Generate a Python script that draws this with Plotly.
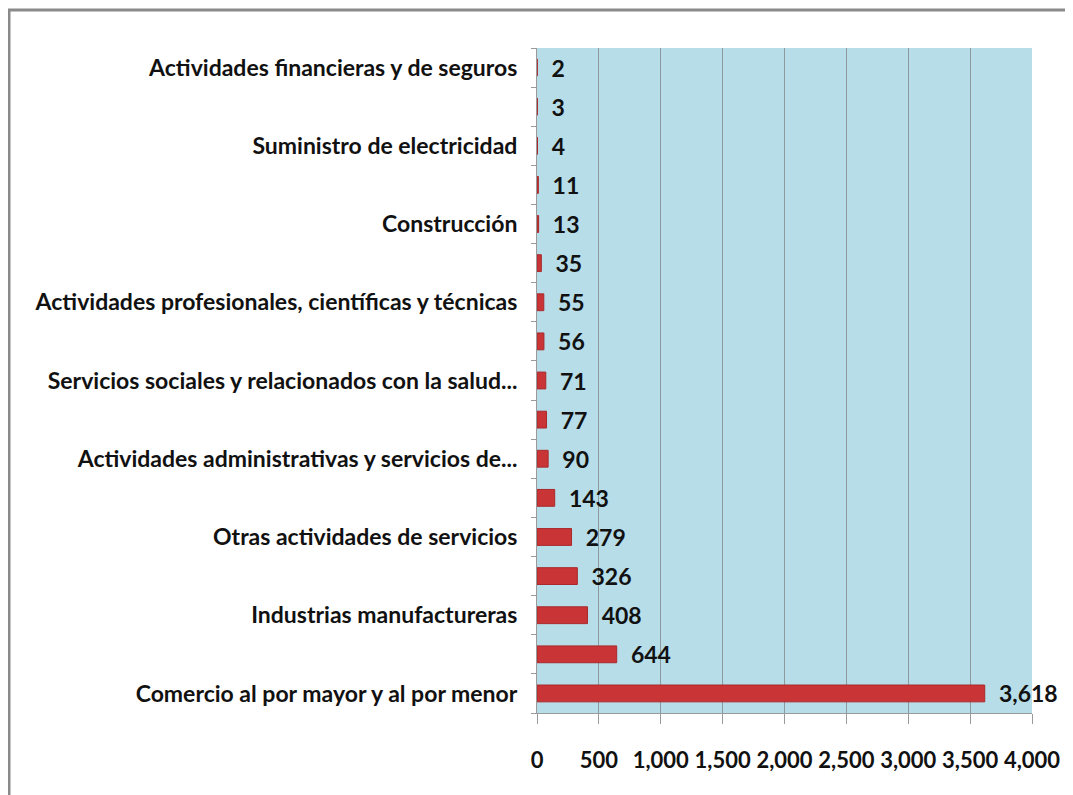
import plotly.graph_objects as go

# bottom to top, as in the picture
values = [3618, 644, 408, 326, 279, 143, 90, 77, 71, 56, 55, 35, 13, 11, 4, 3, 2]
labels = [
    "Comercio al por mayor y al por menor", "",
    "Industrias manufactureras", "",
    "Otras actividades de servicios", "",
    "Actividades administrativas y servicios de...", "",
    "Servicios sociales y relacionados con la salud...", "",
    "Actividades profesionales, científicas y técnicas", "",
    "Construcción", "",
    "Suministro de electricidad", "",
    "Actividades financieras y de seguros",
]
x_ticks = [0, 500, 1000, 1500, 2000, 2500, 3000, 3500, 4000]

font_family = "Lato, Liberation Sans, sans-serif"
pos = list(range(len(values)))

# page body has an 8px margin, so the plot box is offset by that much
L, T, PW, PH = 529, 40, 495, 665

fig = go.Figure(go.Bar(
    x=values,
    y=pos,
    orientation='h',
    width=0.43,
    marker=dict(color='#c93436', line=dict(color='#a82a2c', width=1)),
    text=values,
    texttemplate='  %{x:,}',
    textposition='outside',
    textangle=0,
    constraintext='none',
    textfont=dict(size=23, color='#111111', family=font_family, weight='bold'),
    cliponaxis=False,
))

fig.update_layout(
    width=1073,
    height=795,
    margin=dict(l=L, r=1073 - L - PW, t=T, b=795 - T - PH),
    paper_bgcolor='white',
    plot_bgcolor='#b7dde8',
    showlegend=False,
    font=dict(family=font_family, size=23, color='#111111', weight='bold'),
    shapes=[
        # outer frame of the chart
        dict(type='rect', xref='paper', yref='paper',
             x0=(1 - L) / PW, x1=(1090 - L) / PW,
             y0=(T + PH - 810) / PH, y1=(T + PH - 2) / PH,
             line=dict(color='#8a8a8a', width=3), layer='below'),
    ],
)

fig.update_xaxes(
    range=[0, 4000],
    tickvals=x_ticks,
    tickformat=',',
    tickangle=0,
    automargin=False,
    showgrid=True,
    gridcolor='#8c9a9e',
    gridwidth=1,
    showline=True,
    linecolor='#9a9a9a',
    ticks='outside',
    ticklen=10,
    tickcolor='#9a9a9a',
    tickfont=dict(size=22),
    ticklabelstandoff=18,
    zeroline=False,
)

fig.update_yaxes(
    range=[-0.5, len(values) - 0.5],
    tickvals=pos,
    ticktext=labels,
    automargin=False,
    ticks='',
    ticklen=0,
    ticklabelstandoff=14,
    minor=dict(tick0=-0.5, dtick=1, ticks='outside', ticklen=5, tickcolor='#9a9a9a'),
    showgrid=False,
    showline=True,
    linecolor='#9a9a9a',
    tickfont=dict(size=23),
    zeroline=False,
)

fig.write_html("out.html")
